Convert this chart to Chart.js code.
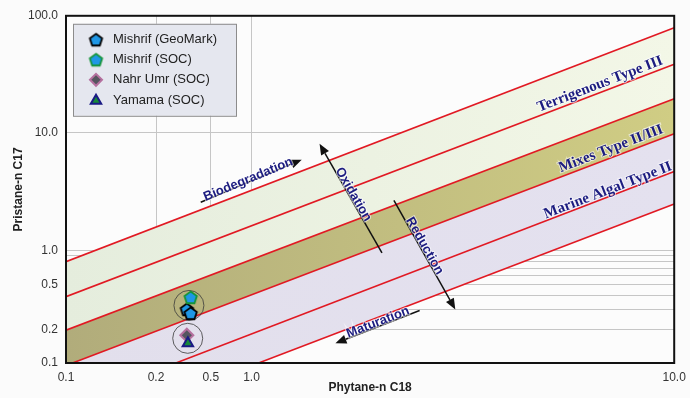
<!DOCTYPE html>
<html>
<head>
<meta charset="utf-8">
<script src="https://cdn.jsdelivr.net/npm/chart.js@4.4.0/dist/chart.umd.min.js"></script>
<style>
  html, body { margin: 0; padding: 0; background: #fbfbfb; }
</style>
</head>
<body>
<canvas id="chart" width="690" height="398"></canvas>
<script>
// axis ticks
const xTicks = [0.1, 0.2, 0.5, 1, 10];
const yTicks = [0.1, 0.2, 0.3, 0.4, 0.5, 0.6, 0.7, 0.8, 0.9, 1, 10, 100];
const yLabelled = [0.1, 0.2, 0.5, 1, 10, 100];

// boundary lines (Pristane/nC17 at Phytane/nC18 = 0.1 and = 10)
const lineX = [0.1, 10];
const lineStartY = [0.80, 0.39, 0.196, 0.095, 0.042, 0.022];
const lineEndY = [79, 38.5, 19.5, 9.8, 4.7, 2.5];

// samples
const geomarkX = [0.335, 0.357];
const geomarkY = [0.30, 0.277];
const socMishrifX = [0.357];
const socMishrifY = [0.384];
const nahrUmrX = [0.335];
const nahrUmrY = [0.177];
const yamamaX = [0.341];
const yamamaY = [0.15];
const groupX = [0.347, 0.34];
const groupY = [0.326, 0.166];

const navy = '#1c1c80';
const red = 'rgb(225,25,35)';

// log axis whose decades are stretched differently (as in the original figure)
class SegmentedLogScale extends Chart.Scale {
  parse(raw) {
    if (raw === null || raw === undefined) return null;
    const v = +raw;
    return isFinite(v) && v > 0 ? v : null;
  }
  determineDataLimits() {
    this.min = this.options.min;
    this.max = this.options.max;
    this._b = Array.from(this.options.breaks).map(Math.log10);
    this._p = Array.from(this.options.breakPos);
  }
  buildTicks() {
    return Array.from(this.options.tickValues).map(v => ({ value: v }));
  }
  getPixelForValue(value) {
    const b = this._b, p = this._p, lv = Math.log10(value);
    let i = 0;
    while (i < b.length - 2 && lv > b[i + 1]) i++;
    const t = (lv - b[i]) / (b[i + 1] - b[i]);
    return this.getPixelForDecimal(p[i] + t * (p[i + 1] - p[i]));
  }
  getValueForPixel(pixel) {
    const b = this._b, p = this._p, d = this.getDecimalForPixel(pixel);
    let i = 0;
    while (i < p.length - 2 && d > p[i + 1]) i++;
    const t = (d - p[i]) / (p[i + 1] - p[i]);
    return Math.pow(10, b[i] + t * (b[i + 1] - b[i]));
  }
}
SegmentedLogScale.id = 'segLog';
SegmentedLogScale.defaults = {};
Chart.register(SegmentedLogScale);

Chart.defaults.font.family = '"Liberation Sans", Arial, sans-serif';

function pentagon(fill, stroke) {
  const c = document.createElement('canvas');
  c.width = 17; c.height = 17;
  const g = c.getContext('2d');
  g.beginPath();
  for (let k = 0; k < 5; k++) {
    const a = -Math.PI / 2 + k * 2 * Math.PI / 5;
    const px = 8.5 + 6.5 * Math.cos(a), py = 9 + 6.5 * Math.sin(a);
    if (k) g.lineTo(px, py); else g.moveTo(px, py);
  }
  g.closePath();
  g.fillStyle = fill; g.fill();
  g.lineWidth = 1.8; g.strokeStyle = stroke; g.stroke();
  return c;
}

function bandFill(left, right) {
  return ctx => {
    const a = ctx.chart.chartArea;
    if (!a) return left;
    const g = ctx.chart.ctx.createLinearGradient(a.left, 0, a.right, 0);
    g.addColorStop(0, left);
    g.addColorStop(1, right);
    return g;
  };
}

const pts = (xs, ys) => xs.map((x, i) => ({ x: x, y: ys[i] }));
const fills = ['+2', false, '+1', '+2', false, false];
const fillColors = [
  bandFill('#e5eddd', '#f3f7e7'), null,
  bandFill('#b1ac7b', '#d0cd84'),
  bandFill('#e2dfec', '#e4e1ef'), null, null
];

const datasets = [
  { label: 'Yamama (SOC)', data: pts(yamamaX, yamamaY), pointStyle: 'triangle',
    pointRadius: 6, pointBackgroundColor: '#17893a', pointBorderColor: '#1a1a85', pointBorderWidth: 2 },
  { label: 'Nahr Umr (SOC)', data: pts(nahrUmrX, nahrUmrY), pointStyle: 'rectRot',
    pointRadius: 6.5, pointBackgroundColor: '#55555f', pointBorderColor: '#b5709f', pointBorderWidth: 2 },
  { label: 'Mishrif (SOC)', data: pts(socMishrifX, socMishrifY),
    pointStyle: pentagon('#1f97e6', '#14943a'), pointRadius: 6 },
  { label: 'Mishrif (GeoMark)', data: pts(geomarkX, geomarkY),
    pointStyle: pentagon('#1f97e6', '#000000'), pointRadius: 6 },
  { label: 'groups', data: pts(groupX, groupY), pointStyle: 'circle', pointRadius: 15,
    pointBackgroundColor: 'rgba(0,0,0,0)', pointBorderColor: '#3a3a3a', pointBorderWidth: 0.8 }
];
lineStartY.forEach((y0, i) => {
  datasets.push({
    type: 'line',
    label: 'boundary ' + (i + 1),
    data: [{ x: lineX[0], y: y0 }, { x: lineX[1], y: lineEndY[i] }],
    borderColor: red, borderWidth: 1.6, pointRadius: 0, tension: 0,
    fill: fills[i], backgroundColor: fillColors[i] || 'rgba(0,0,0,0)'
  });
});

const legendOrder = [3, 2, 1, 0];

const frame = {
  id: 'frame',
  beforeDraw(chart) {
    const { ctx, chartArea: a } = chart;
    ctx.save();
    ctx.fillStyle = '#fcfcfc';
    ctx.fillRect(a.left, a.top, a.width, a.height);
    ctx.restore();
  },
  afterDatasetsDraw(chart) {
    const { ctx, chartArea: a } = chart;
    const P = (fx, fy) => [a.left + fx * a.width, a.top + fy * a.height];

    // arrows
    const arrows = [
      [0.2215, 0.537, 0.3876, 0.4143],
      [0.5195, 0.6829, 0.4169, 0.3686],
      [0.5391, 0.5314, 0.6401, 0.8457],
      [0.5814, 0.8486, 0.443, 0.9429]
    ];
    ctx.save();
    ctx.strokeStyle = '#111'; ctx.fillStyle = '#111'; ctx.lineWidth = 1.5;
    arrows.forEach(([x0, y0, x1, y1]) => {
      const [ax, ay] = P(x0, y0), [bx, by] = P(x1, y1);
      const ang = Math.atan2(by - ay, bx - ax);
      const hx = bx - 11 * Math.cos(ang), hy = by - 11 * Math.sin(ang);
      ctx.beginPath(); ctx.moveTo(ax, ay); ctx.lineTo(hx, hy); ctx.stroke();
      ctx.beginPath();
      ctx.moveTo(bx, by);
      ctx.lineTo(hx + 4.5 * Math.sin(ang), hy - 4.5 * Math.cos(ang));
      ctx.lineTo(hx - 4.5 * Math.sin(ang), hy + 4.5 * Math.cos(ang));
      ctx.closePath(); ctx.fill();
    });
    ctx.restore();

    const label = (text, fx, fy, deg, font) => {
      const [x, y] = P(fx, fy);
      ctx.save();
      ctx.translate(x, y);
      ctx.rotate(deg * Math.PI / 180);
      ctx.font = font;
      ctx.textAlign = 'center';
      ctx.textBaseline = 'middle';
      ctx.lineWidth = 2; ctx.strokeStyle = 'rgba(255,255,255,0.6)';
      ctx.strokeText(text, 0, 0);
      ctx.fillStyle = navy;
      ctx.fillText(text, 0, 0);
      ctx.restore();
    };
    const sans = 'bold 13px "Liberation Sans", Arial, sans-serif';
    const serif = 'bold 15px "Liberation Serif", "Times New Roman", serif';
    label('Biodegradation', 0.2997, 0.4714, -22.5, sans);
    label('Oxidation', 0.4723, 0.5143, 60, sans);
    label('Reduction', 0.5896, 0.6629, 60.5, sans);
    label('Maturation', 0.513, 0.8829, -21.2, sans);
    label('Terrigenous Type III', 0.878, 0.197, -21, serif);
    label('Mixes Type II/III', 0.896, 0.383, -21, serif);
    label('Marine Algal Type II', 0.891, 0.503, -21, serif);

    // plot border
    ctx.save();
    ctx.strokeStyle = '#111'; ctx.lineWidth = 2;
    ctx.strokeRect(a.left, a.top, a.width, a.height);
    ctx.restore();
  },
  afterDraw(chart) {
    const { ctx, chartArea: a } = chart;
    const x = a.left + 7, y = a.top + 8;
    ctx.save();
    ctx.fillStyle = '#e5e7ef';
    ctx.fillRect(x, y, 163, 92);
    ctx.strokeStyle = '#8c8c8c'; ctx.lineWidth = 1;
    ctx.strokeRect(x + 0.5, y + 0.5, 163, 92);
    const rows = [24, 44, 64, 85];
    legendOrder.forEach((di, k) => {
      const ds = chart.data.datasets[di];
      const cy = a.top + rows[k];
      ctx.fillStyle = ds.pointBackgroundColor || '#000';
      ctx.strokeStyle = ds.pointBorderColor || '#000';
      ctx.lineWidth = ds.pointBorderWidth || 1;
      Chart.helpers.drawPoint(ctx, {
        pointStyle: ds.pointStyle, radius: 6, rotation: 0, borderWidth: ds.pointBorderWidth || 0
      }, a.left + 30, cy);
      ctx.fillStyle = '#222';
      ctx.font = '13px "Liberation Sans", Arial, sans-serif';
      ctx.textAlign = 'left';
      ctx.textBaseline = 'middle';
      ctx.fillText(ds.label, a.left + 47, cy);
    });
    ctx.restore();
  }
};

new Chart(document.getElementById('chart'), {
  type: 'scatter',
  data: { datasets: datasets },
  options: {
    responsive: false,
    animation: false,
    events: [],
    layout: { padding: { left: 4, right: 10, top: 13, bottom: 0 } },
    plugins: {
      legend: { display: false },
      tooltip: { enabled: false },
      filler: { drawTime: 'beforeDatasetsDraw' }
    },
    scales: {
      x: {
        type: 'segLog', position: 'bottom', min: 0.1, max: 10,
        breaks: xTicks, breakPos: [0, 0.148, 0.238, 0.305, 1], tickValues: xTicks,
        grid: { color: '#c6c6c6', lineWidth: 1, drawTicks: false },
        border: { display: false },
        ticks: { autoSkip: false, maxRotation: 0, padding: 7, color: '#333',
          font: { size: 12 }, callback: v => v.toFixed(1) },
        title: { display: true, text: 'Phytane-n C18', color: '#222',
          font: { size: 12, weight: 'bold' }, padding: { top: 0, bottom: 3 } },
        afterFit: s => { s.height = 35; s.paddingLeft = 0; s.paddingRight = 0; }
      },
      y: {
        type: 'segLog', position: 'left', min: 0.1, max: 100,
        breaks: [0.1, 1, 10, 100], breakPos: [0, 0.323, 0.663, 1], tickValues: yTicks,
        grid: { color: '#c6c6c6', lineWidth: 1, drawTicks: false },
        border: { display: false },
        ticks: { autoSkip: false, padding: 8, color: '#333', font: { size: 12 },
          callback: v => yLabelled.includes(v) ? v.toFixed(1) : '' },
        title: { display: true, text: 'Pristane-n C17', color: '#222',
          font: { size: 12, weight: 'bold' }, padding: { top: 7, bottom: 0 } },
        afterFit: s => { s.width = 62; }
      }
    }
  },
  plugins: [frame]
});
</script>
</body>
</html>
